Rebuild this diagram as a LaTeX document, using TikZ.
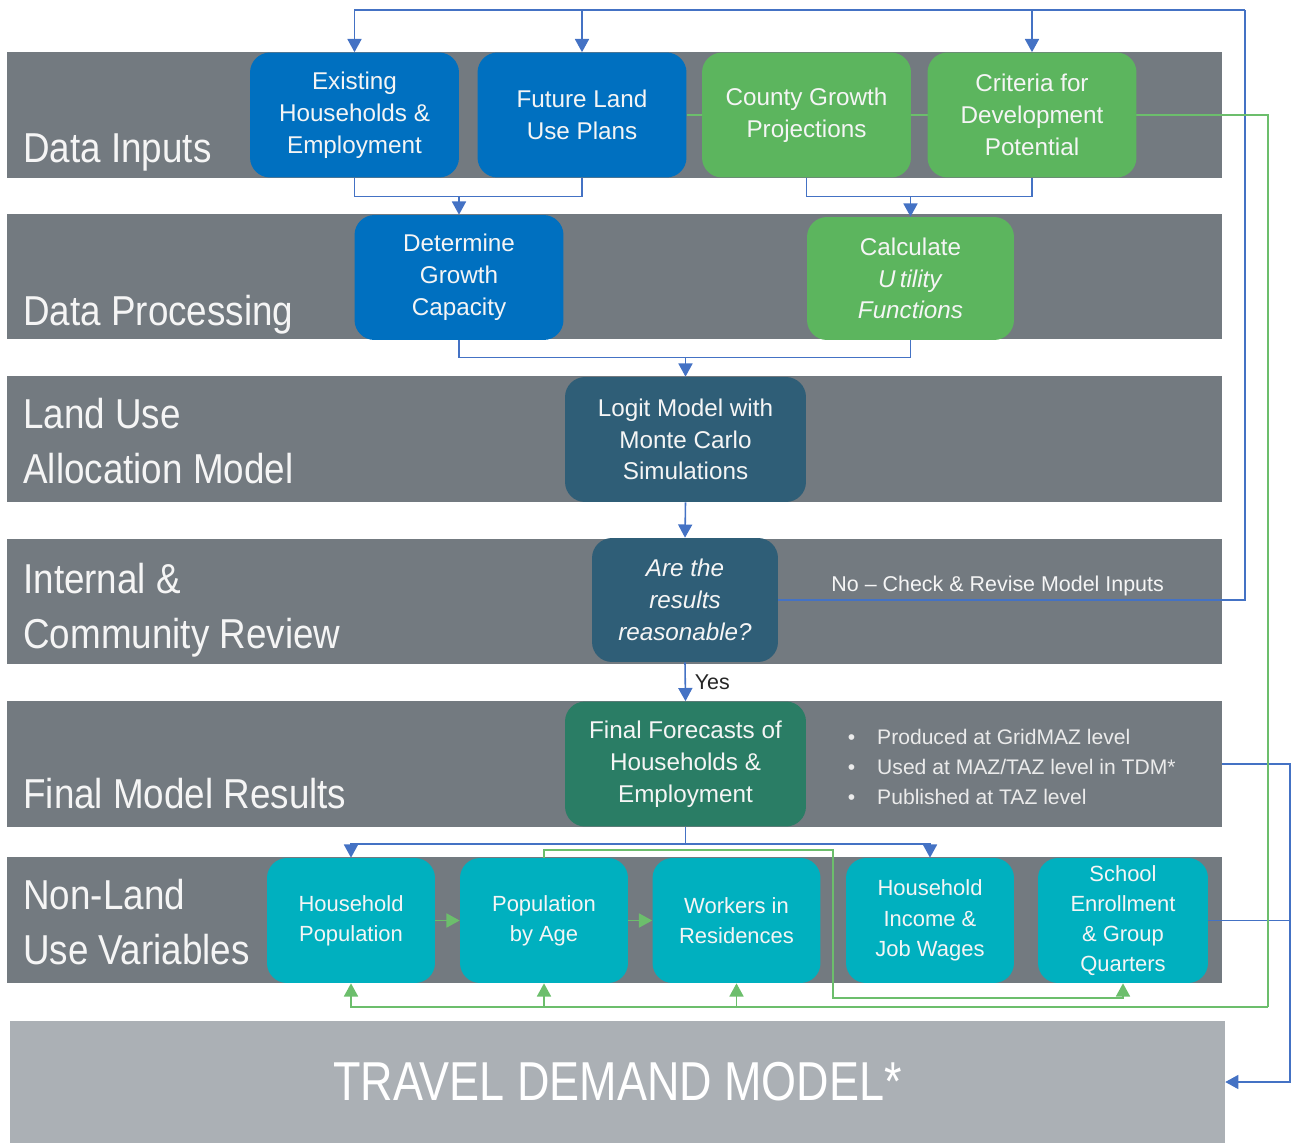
\documentclass[tikz,border=0pt]{standalone}
\usepackage{fontspec}
\setmainfont{Liberation Sans}
\newfontfamily\bandfont[FakeStretch=0.88]{Liberation Sans}
\newfontfamily\tdmfont[FakeStretch=0.82]{Liberation Sans}
\usetikzlibrary{arrows.meta,calc}
\pgfdeclarelayer{back}
\pgfdeclarelayer{lines}
\pgfsetlayers{back,lines,main}
\definecolor{bandgray}{RGB}{115,122,128}
\definecolor{tdmgray}{RGB}{171,176,181}
\definecolor{inblue}{RGB}{0,112,192}
\definecolor{ingreen}{RGB}{92,181,94}
\definecolor{darkteal}{RGB}{47,94,119}
\definecolor{fingreen}{RGB}{42,125,101}
\definecolor{varcyan}{RGB}{0,176,191}
\definecolor{linkblue}{RGB}{68,114,196}
\definecolor{linkgreen}{RGB}{108,190,108}
\definecolor{softwhite}{RGB}{245,245,245}

\begin{document}
\begin{tikzpicture}[x=0.02cm, y=-0.02cm,
  band/.style={fill=bandgray, minimum width=24.3cm, minimum height=2.52cm, inner sep=0pt},
  bandlabel/.style={text=softwhite, font=\bandfont\fontsize{23.8}{31.2}\selectfont, align=left, inner sep=0pt},
  box/.style={rounded corners=0.4cm, text=softwhite, align=center, inner sep=0pt, minimum width=4.18cm, minimum height=2.5cm, font=\fontsize{13.8}{18.1}\selectfont},
  inbox/.style={box, fill=inblue},
  grbox/.style={box, fill=ingreen},
  modbox/.style={box, fill=darkteal},
  finbox/.style={box, fill=fingreen, minimum width=4.82cm},
  varbox/.style={box, fill=varcyan, minimum width=3.36cm, font=\fontsize{12.5}{17.2}\selectfont},
  bl/.style={draw=linkblue, line width=0.9pt},
  gl/.style={draw=linkgreen, line width=0.9pt},
  arr/.style={-{Triangle[width=8pt,length=7.5pt]}},
  notelabel/.style={text=softwhite, font=\fontsize{12.2}{14}\selectfont, inner sep=2pt},
  yeslabel/.style={text=black!85, font=\fontsize{12.2}{14}\selectfont, inner sep=5pt},
  bulletlist/.style={text=black!8, font=\fontsize{12}{17}\selectfont, align=left, inner sep=0pt}]
  \useasboundingbox (0,0) rectangle (1292,1143);

  \begin{pgfonlayer}{back}
  \node[band] (inp) at (614.5,115) {};
  \node[band] (proc) at (614.5,276.5) {};
  \node[band] (alloc) at (614.5,439) {};
  \node[band] (rev) at (614.5,601.5) {};
  \node[band] (res) at (614.5,764) {};
  \node[band] (vars) at (614.5,920) {};
  \node[fill=tdmgray, minimum width=24.3cm, minimum height=2.44cm, inner sep=0pt, text=white, font=\tdmfont\fontsize{31.2}{36}\selectfont] (tdm) at (617.5,1082) {TRAVEL DEMAND MODEL*};
  \end{pgfonlayer}

  \node[bandlabel, anchor=base west] (inpl) at (23,162) {Data Inputs};
  \node[bandlabel, anchor=base west] (procl) at (23,325) {Data Processing};
  \node[bandlabel, anchor=west] (allocl) at (23,441) {Land Use\\Allocation Model};
  \node[bandlabel, anchor=west] (revl) at (23,610) {Internal \&\\Community Review};
  \node[bandlabel, anchor=base west] (resl) at (23,808) {Final Model Results};
  \node[bandlabel, anchor=west] (varsl) at (23,922) {Non-Land\\Use Variables};

  \node[inbox] (exist) at (354.5,115) {Existing\\Households \&\\Employment};
  \node[inbox] (fut) at (582,115) {Future Land\\Use Plans};
  \node[grbox] (cgp) at (806.5,115) {County Growth\\Projections};
  \node[grbox] (crit) at (1032,115) {Criteria for\\Development\\Potential};
  \node[inbox] (det) at (459,277.5) {Determine\\Growth\\Capacity};
  \node[grbox, minimum width=4.14cm, minimum height=2.46cm] (calc) at (910.5,278.5) {Calculate\\\textit{U\,tility}\\\textit{Functions}};
  \node[modbox, minimum width=4.82cm] (logit) at (685.5,439.5) {Logit Model with\\Monte Carlo\\Simulations};
  \node[modbox, minimum width=3.72cm, minimum height=2.48cm] (dec) at (685,600) {\textit{Are the}\\\textit{results}\\\textit{reasonable?}};
  \node[finbox] (fin) at (685.5,764) {Final Forecasts of\\Households \&\\Employment};
  \node[bulletlist, anchor=west] (notes) at (843,767) {\makebox[19.3pt][l]{\hspace{2.5pt}•}Produced at GridMAZ level\\\makebox[19.3pt][l]{\hspace{2.5pt}•}Used at MAZ/TAZ level in TDM*\\\makebox[19.3pt][l]{\hspace{2.5pt}•}Published at TAZ level};
  \node[varbox] (hpop) at (351,920.5) {Household\\Population};
  \node[varbox] (pop) at (544,920.5) {Population\\by Age};
  \node[varbox] (wir) at (736.5,920.5) {Workers in\\Residences};
  \node[varbox] (inc) at (930,920.5) {Household\\Income \&\\Job Wages};
  \node[varbox, minimum width=3.4cm] (sch) at (1123,920.5) {School\\Enrollment\\\& Group\\Quarters};

  \begin{pgfonlayer}{lines}
  \coordinate (loop) at (1245,10);
  \draw[bl] (dec.east) -- node[notelabel, above, pos=0.47] {No – Check \& Revise Model Inputs} (dec.east -| loop) -- (loop);
  \draw[bl,arr] (loop) -| (exist.north);
  \draw[bl,arr] (loop -| fut.north) -- (fut.north);
  \draw[bl,arr] (loop -| crit.north) -- (crit.north);
  \coordinate (j1) at ($(det.north)+(0,-18)$);
  \draw[bl] (exist.south) |- (j1) -| (fut.south);
  \draw[bl,arr] (j1) -- (det.north);
  \coordinate (j2) at ($(calc.north)+(0,-20)$);
  \draw[bl] (cgp.south) |- (j2) -| (crit.south);
  \draw[bl,arr] (j2) -- (calc.north);
  \coordinate (j3) at ($(logit.north)+(0,-19)$);
  \draw[bl] (det.south) |- (j3) -| (calc.south);
  \draw[bl,arr] (j3) -- (logit.north);
  \draw[bl,arr] (logit.south) -- (dec.north);
  \draw[bl,arr] (dec.south) -- node[yeslabel, right] {Yes} (fin.north);
  \coordinate (j4) at ($(fin.south)+(0,17)$);
  \draw[bl] (fin.south) -- (j4);
  \draw[bl,arr] (j4) -| (hpop.north);
  \draw[bl,arr] (j4) -| (inc.north);
  \coordinate (tdmin) at ($(tdm.east)+(65,0)$);
  \draw[bl,arr] (res.east) -| (tdmin) -- (tdm.east);
  \draw[bl] (sch.east) -- (sch.east -| tdmin);
  \coordinate (g1) at (833,850);
  \coordinate (g2) at (833,998);
  \draw[gl,arr] (pop.north) |- (g1) -- (g2) -| (sch.south);
  \coordinate (g3) at (1268,1007);
  \draw[gl] (fut.east) -| (g3);
  \draw[gl,arr] (g3) -| (hpop.south);
  \draw[gl,arr] (g3 -| pop.south) -- (pop.south);
  \draw[gl,arr] (g3 -| wir.south) -- (wir.south);
  \draw[gl,arr] (hpop.east) -- (pop.west);
  \draw[gl,arr] (pop.east) -- (wir.west);
  \end{pgfonlayer}
\end{tikzpicture}
\end{document}
